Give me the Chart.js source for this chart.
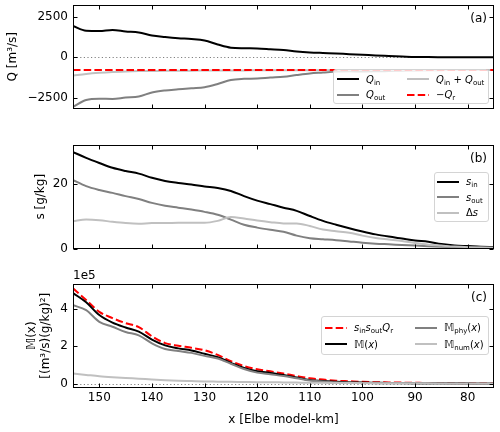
<!DOCTYPE html>
<html>
<head>
<meta charset="utf-8">
<script src="https://cdn.jsdelivr.net/npm/chart.js@4.4.0/dist/chart.umd.min.js"></script>
<style>
  body { margin:0; width:500px; height:432px; background:#fff; position:relative; overflow:hidden; font-family:'DejaVu Sans', sans-serif; }
  canvas { position:absolute; left:0; }
  .legend { position:absolute; box-sizing:border-box; background:rgba(255,255,255,0.8); border:1px solid #d4d4d4; border-radius:3px; font-size:10px; color:#000; }
  .item { position:absolute; height:14px; display:flex; align-items:center; white-space:nowrap; }
  .item svg { margin-right:7px; flex:none; }
  .item i { font-style:italic; }
  .item sub { font-size:7px; vertical-align:-2px; line-height:0; }
</style>
</head>
<body>
<canvas id="chartA" width="500" height="120" style="top:0"></canvas>
<canvas id="chartB" width="500" height="130" style="top:130px"></canvas>
<canvas id="chartC" width="500" height="172" style="top:260px"></canvas>
<script>
// x positions along the estuary (Elbe model-km), read every 2.5 km
const km = [155, 152.5, 150, 147.5, 145, 142.5, 140, 137.5, 135, 132.5, 130, 127.5, 125, 122.5, 120, 117.5, 115,
  112.5, 110, 107.5, 105, 102.5, 100, 97.5, 95, 92.5, 90, 87.5, 85, 82.5, 80, 77.5, 75];

// panel (a): discharges [m3/s]
const qIn = [1930, 1640, 1625, 1690, 1600, 1535, 1350, 1255, 1180, 1130, 1040, 790, 590, 555, 545, 500, 450,
  360, 300, 265, 235, 190, 155, 110, 80, 50, 20, 10, 5, 0, 0, 0, 0];
const qOut = [-3070, -2640, -2565, -2575, -2485, -2425, -2175, -2050, -1980, -1910, -1850, -1650, -1400, -1330, -1310, -1250, -1200,
  -1095, -1000, -940, -880, -870, -880, -870, -850, -830, -810, -800, -795, -790, -785, -785, -780];
const qSum = [-1140, -1030, -955, -905, -875, -855, -845, -835, -830, -825, -820, -815, -812, -810, -808, -805, -803,
  -800, -798, -796, -795, -794, -793, -792, -791, -790, -790, -790, -790, -790, -790, -790, -790];
const negQr = [-780, -780, -780, -780, -780, -780, -780, -780, -780, -780, -780, -780, -780, -780, -780, -780, -780,
  -780, -780, -780, -780, -780, -780, -780, -780, -780, -780, -780, -780, -780, -780, -780, -780];

// panel (b): salinities [g/kg]
const sIn = [30.0, 28.2, 26.6, 25.1, 24.1, 23.3, 22.0, 21.0, 20.4, 19.9, 19.3, 18.8, 17.9, 16.3, 14.9, 13.8, 12.7,
  11.7, 10.1, 8.6, 7.4, 6.3, 5.3, 4.4, 3.7, 3.1, 2.5, 2.1, 1.4, 0.95, 0.75, 0.55, 0.45];
const sOut = [21.3, 19.4, 18.2, 17.3, 16.3, 15.4, 14.2, 13.3, 12.7, 12.1, 11.4, 10.5, 9.0, 7.4, 6.5, 5.8, 5.2,
  4.0, 3.2, 2.9, 2.6, 2.2, 1.8, 1.5, 1.3, 1.1, 0.9, 0.7, 0.55, 0.45, 0.35, 0.3, 0.25];
const dS = [8.5, 9.0, 8.8, 8.3, 7.9, 7.7, 7.9, 7.9, 8.0, 8.0, 8.0, 8.6, 9.8, 9.3, 8.7, 8.2, 7.8,
  7.8, 7.0, 5.9, 5.4, 4.9, 4.0, 3.3, 2.8, 2.3, 1.7, 1.2, 0.9, 0.6, 0.4, 0.3, 0.2];

// panel (c): mixing, in units of 1e5 (m3/s)(g/kg)^2
const mRiver = [5.08, 4.46, 3.83, 3.5, 3.23, 3.02, 2.53, 2.17, 2.03, 1.92, 1.79, 1.54, 1.21, 0.95, 0.78, 0.67, 0.55,
  0.42, 0.3, 0.23, 0.17, 0.14, 0.11, 0.09, 0.08, 0.07, 0.06, 0.05, 0.05, 0.04, 0.04, 0.03, 0.03];
const mTotal = [4.83, 4.34, 3.66, 3.26, 3.0, 2.78, 2.36, 2.05, 1.89, 1.78, 1.6, 1.42, 1.12, 0.85, 0.68, 0.58, 0.47,
  0.34, 0.21, 0.16, 0.12, 0.09, 0.07, 0.06, 0.05, 0.05, 0.04, 0.04, 0.03, 0.03, 0.03, 0.02, 0.02];
const mPhy = [4.18, 3.92, 3.3, 3.04, 2.76, 2.58, 2.16, 1.86, 1.75, 1.65, 1.49, 1.35, 1.07, 0.79, 0.6, 0.51, 0.42,
  0.3, 0.18, 0.13, 0.09, 0.07, 0.05, 0.04, 0.03, 0.03, 0.02, 0.02, 0.02, 0.01, 0.01, 0.01, 0.01];
const mNum = [0.55, 0.48, 0.41, 0.36, 0.32, 0.28, 0.24, 0.2, 0.17, 0.15, 0.13, 0.12, 0.11, 0.1, 0.09, 0.09, 0.08,
  0.07, 0.06, 0.06, 0.05, 0.05, 0.04, 0.04, 0.04, 0.03, 0.03, 0.03, 0.02, 0.02, 0.02, 0.02, 0.02];

// tick labels
const xTicks = [150, 140, 130, 120, 110, 100, 90, 80];
const qTicks = [-2500, 0, 2500];
const sTicks = [0, 20];
const mTicks = [0, 2, 4];

Chart.defaults.font.family = "'DejaVu Sans', sans-serif";
Chart.defaults.font.size = 12;
Chart.defaults.color = '#000';

const pts = arr => km.map((x, i) => ({ x: x, y: arr[i] }));
const minus = v => (v < 0 ? '\u2212' + Math.abs(v) : String(v));

// frame, inward ticks on all sides, panel label, dotted zero line
const decor = {
  id: 'decor',
  beforeDatasetsDraw(chart, args, opts) {
    if (!opts.zero) return;
    const { ctx, chartArea: a } = chart;
    const y = Math.round(chart.scales.y.getPixelForValue(0)) + 0.5;
    ctx.save();
    ctx.strokeStyle = '#808080';
    ctx.lineWidth = 1;
    ctx.setLineDash([1.2, 2.4]);
    ctx.beginPath(); ctx.moveTo(a.left, y); ctx.lineTo(a.right, y); ctx.stroke();
    ctx.restore();
  },
  afterDatasetsDraw(chart, args, opts) {
    const { ctx, chartArea: a, scales: { x, y } } = chart;
    const L = Math.round(a.left) + 0.5, R = Math.round(a.right) - 0.5;
    const T = Math.round(a.top) + 0.5, B = Math.round(a.bottom) - 0.5;
    ctx.save();
    ctx.strokeStyle = '#000';
    ctx.lineWidth = 1;
    ctx.strokeRect(L, T, R - L, B - T);
    ctx.beginPath();
    x.ticks.forEach(t => {
      const px = Math.round(x.getPixelForValue(t.value)) + 0.5;
      ctx.moveTo(px, T); ctx.lineTo(px, T + 4);
      ctx.moveTo(px, B); ctx.lineTo(px, B - 4);
    });
    y.ticks.forEach(t => {
      const py = Math.round(y.getPixelForValue(t.value)) + 0.5;
      ctx.moveTo(L, py); ctx.lineTo(L + 4, py);
      ctx.moveTo(R, py); ctx.lineTo(R - 4, py);
    });
    ctx.stroke();
    ctx.fillStyle = '#000';
    ctx.font = "12px 'DejaVu Sans'";
    ctx.textAlign = 'right';
    ctx.textBaseline = 'middle';
    ctx.fillText(opts.label, a.right - 7, a.top + 14);
    if (opts.offset) {
      ctx.textAlign = 'left';
      ctx.textBaseline = 'bottom';
      ctx.fillText(opts.offset, a.left, a.top - 2);
    }
    ctx.restore();
  }
};

function line(arr, color, dashed) {
  return {
    data: pts(arr),
    borderColor: color,
    borderWidth: 2,
    borderDash: dashed ? [7.5, 3.2] : [],
    pointRadius: 0,
    fill: false,
    cubicInterpolationMode: 'monotone'
  };
}

function makeChart(id, datasets, cfg) {
  return new Chart(document.getElementById(id), {
    type: 'line',
    data: { datasets: datasets },
    plugins: [decor],
    options: {
      responsive: false,
      animation: false,
      layout: { padding: { left: 0, right: 6, top: cfg.padTop, bottom: 0 } },
      plugins: {
        legend: { display: false },
        tooltip: { enabled: false },
        decor: { label: cfg.label, zero: cfg.zero, offset: cfg.offset }
      },
      scales: {
        x: {
          type: 'linear', reverse: true, min: 75, max: 155,
          afterBuildTicks: s => { s.ticks = xTicks.map(v => ({ value: v })); },
          afterFit: s => { s.height = cfg.xHeight; s.paddingLeft = 0; s.paddingRight = 0; },
          grid: { display: false, drawTicks: false },
          border: { display: false },
          ticks: { display: cfg.showX, padding: 3, maxRotation: 0, autoSkip: false },
          title: { display: cfg.showX, text: 'x [Elbe model-km]', padding: { top: 0, bottom: 4.8 } }
        },
        y: {
          type: 'linear', min: cfg.yMin, max: cfg.yMax,
          afterBuildTicks: s => { s.ticks = cfg.yTicks.map(v => ({ value: v })); },
          afterFit: s => { s.width = 73; s.paddingTop = 0; s.paddingBottom = 0; },
          grid: { display: false, drawTicks: false },
          border: { display: false },
          ticks: { padding: 5, callback: v => minus(v) },
          title: { display: true, text: cfg.yTitle, font: { size: 12, lineHeight: 14 / 12 }, padding: { top: cfg.titlePad, bottom: 0 } }
        }
      }
    }
  });
}

// first dataset is drawn on top
makeChart('chartA', [
  line(negQr, '#ff0000', true),
  line(qSum, '#c0c0c0'),
  line(qOut, '#808080'),
  line(qIn, '#000000')
], { padTop: 5, xHeight: 11.5, showX: false, yMin: -3165, yMax: 3230, yTicks: qTicks,
     yTitle: 'Q [m\u00b3/s]', titlePad: 5.8, label: '(a)', zero: true });

makeChart('chartB', [
  line(dS, '#c0c0c0'),
  line(sOut, '#808080'),
  line(sIn, '#000000')
], { padTop: 15, xHeight: 11.5, showX: false, yMin: 0, yMax: 32.2, yTicks: sTicks,
     yTitle: 's [g/kg]', titlePad: 33.8, label: '(b)', zero: false });

makeChart('chartC', [
  line(mNum, '#c0c0c0'),
  line(mPhy, '#808080'),
  line(mTotal, '#000000'),
  line(mRiver, '#ff0000', true)
], { padTop: 24, xHeight: 44.5, showX: true, yMin: -0.19, yMax: 5.31, yTicks: mTicks,
     yTitle: ['\u{1D544}(x)', '[(m\u00b3/s)(g/kg)\u00b2]'], titlePad: 25, label: '(c)', zero: true, offset: '1e5' });

// legends drawn inside the axes, with sub/superscripts as html text
function legend(box, items) {
  const el = document.createElement('div');
  el.className = 'legend';
  el.style.left = box[0] + 'px';
  el.style.top = box[1] + 'px';
  el.style.width = box[2] + 'px';
  el.style.height = box[3] + 'px';
  items.forEach(it => {
    const row = document.createElement('div');
    row.className = 'item';
    row.style.left = it.x + 'px';
    row.style.top = (it.y - 7) + 'px';
    row.innerHTML = '<svg width="22" height="14"><line x1="0" y1="7" x2="22" y2="7" stroke="' + it.color +
      '" stroke-width="2"' + (it.dash ? ' stroke-dasharray="7.5,3.2"' : '') + '/></svg><span>' + it.html + '</span>';
    el.appendChild(row);
  });
  document.body.appendChild(el);
}

legend([333, 69, 156, 35], [
  { x: 3, y: 9, color: '#000', html: '<i>Q</i><sub>in</sub>' },
  { x: 3, y: 24.5, color: '#808080', html: '<i>Q</i><sub>out</sub>' },
  { x: 73, y: 9, color: '#c0c0c0', html: '<i>Q</i><sub>in</sub> + <i>Q</i><sub>out</sub>' },
  { x: 73, y: 24.5, color: '#ff0000', dash: true, html: '\u2212<i>Q</i><sub>r</sub>' }
]);

legend([434, 172, 55, 50], [
  { x: 2, y: 8.7, color: '#000', html: '<i>s</i><sub>in</sub>' },
  { x: 2, y: 24.2, color: '#808080', html: '<i>s</i><sub>out</sub>' },
  { x: 2, y: 39.7, color: '#c0c0c0', html: '\u0394<i>s</i>' }
]);

legend([321, 316, 168, 39], [
  { x: 3, y: 10.7, color: '#ff0000', dash: true, html: '<i>s</i><sub>in</sub><i>s</i><sub>out</sub><i>Q</i><sub>r</sub>' },
  { x: 3, y: 27.3, color: '#000', html: '\u{1D544}(<i>x</i>)' },
  { x: 93, y: 10.7, color: '#808080', html: '\u{1D544}<sub>phy</sub>(<i>x</i>)' },
  { x: 93, y: 27.3, color: '#c0c0c0', html: '\u{1D544}<sub>num</sub>(<i>x</i>)' }
]);
</script>
</body>
</html>
